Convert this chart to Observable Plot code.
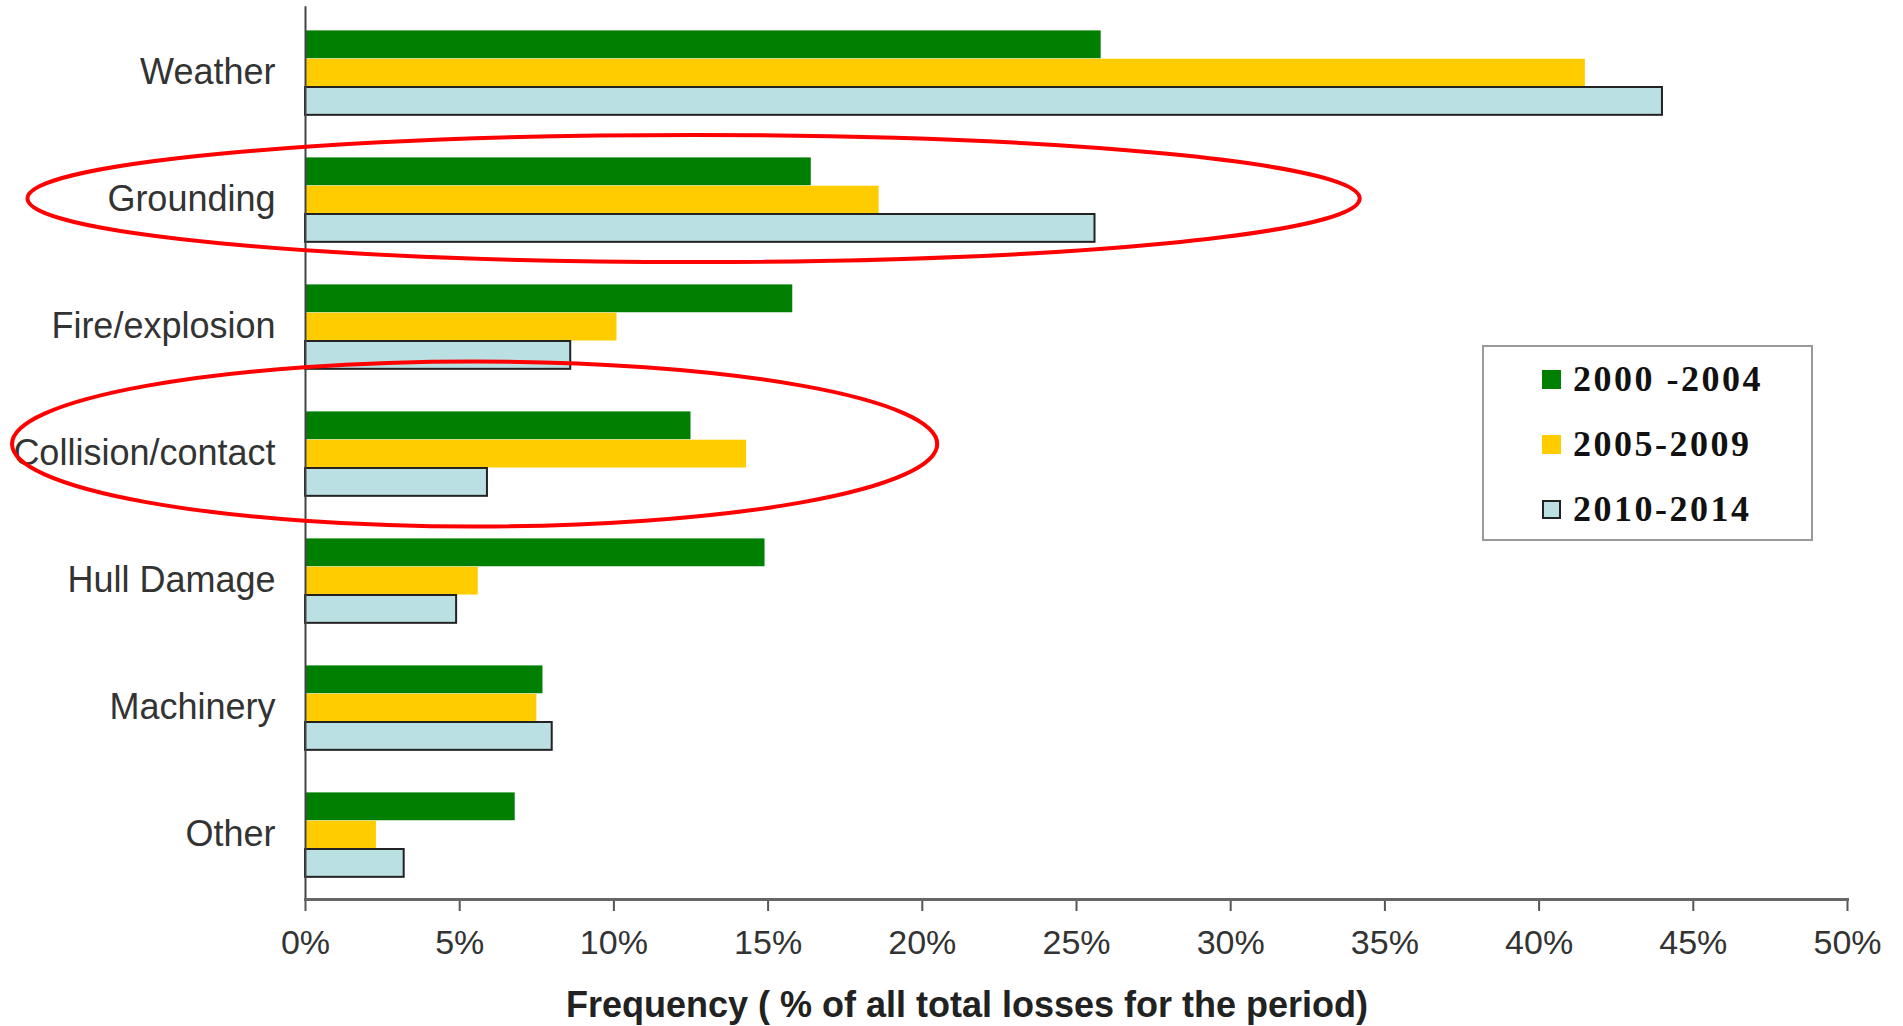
<!DOCTYPE html>
<html>
<head>
<meta charset="utf-8">
<script src="https://cdn.jsdelivr.net/npm/d3@7"></script>
<script src="https://cdn.jsdelivr.net/npm/@observablehq/plot@0.6"></script>
<style>
  html, body { margin: 0; padding: 0; background: #fff; }
  #wrap { position: relative; width: 1903px; height: 1026px; overflow: hidden; }
  #legend {
    position: absolute; left: 1482px; top: 345px; width: 327px; height: 192px;
    border: 2px solid #999; box-sizing: content-box; background: #fff;
    font-family: "Liberation Serif", "Times New Roman", serif; font-weight: bold;
    font-size: 36px; color: #111; letter-spacing: 2.5px;
  }
  .item { position: absolute; left: 58px; height: 40px; display: flex; align-items: center; white-space: pre; }
  .sw { width: 19px; height: 19px; margin-right: 12px; box-sizing: border-box; }
  #caption {
    position: absolute; top: 984px; left: 967px; transform: translateX(-50%);
    font-family: "Liberation Sans", Arial, sans-serif; font-weight: bold; font-size: 36px;
    color: #222; white-space: nowrap; line-height: 42px;
  }
</style>
</head>
<body>
<div id="wrap"></div>
<script>
const categories = ["Weather", "Grounding", "Fire/explosion", "Collision/contact", "Hull Damage", "Machinery", "Other"];
const seriesNames = ["2000 -2004", "2005-2009", "2010-2014"];
const values2000_2004 = [25.8, 16.4, 15.8, 12.5, 14.9, 7.7, 6.8];
const values2005_2009 = [41.5, 18.6, 10.1, 14.3, 5.6, 7.5, 2.3];
const values2010_2014 = [44.0, 25.6, 8.6, 5.9, 4.9, 8.0, 3.2];
const xTicks = [0, 5, 10, 15, 20, 25, 30, 35, 40, 45, 50];
const axisTitle = "Frequency ( % of all total losses for the period)";

// red highlight ellipses (annotation)
const highlightCategories = ["Grounding", "Collision/contact"];
const highlightCenters = [12.6, 5.5];
const highlightHalfWidths = [21.6, 15.0];
const highlightHalfHeights = [0.5, 0.65]; // fraction of band
const highlightOffsets = [0, -0.067];      // fraction of band

const seriesValues = [values2000_2004, values2005_2009, values2010_2014];
const fills = ["#007F00", "#FFCC00", "#BAE0E3"];
const strokes = [null, null, "#222"];

const W = 1903, H = 970;
const mTop = 6.7, mBottom = H - 899;
const step = (899 - mTop) / categories.length;
const groupTop = 22.4, barH = 28.3;

const tables = seriesValues.map(vals => categories.map((c, i) => ({category: c, value: vals[i]})));

const barMarks = tables.map((t, i) => Plot.barX(t, {
  y: "category", x: "value",
  fill: fills[i],
  stroke: strokes[i] || "none",
  strokeWidth: strokes[i] ? 2 : 0,
  insetTop: groupTop + i * barH,
  insetBottom: step - groupTop - (i + 1) * barH
}));

const plot = Plot.plot({
  width: W, height: H,
  marginLeft: 305, marginRight: 56, marginTop: mTop, marginBottom: mBottom,
  style: {fontFamily: "'Liberation Sans', Arial, sans-serif", color: "#333", background: "#fff"},
  x: {domain: [0, 50]},
  y: {domain: categories, padding: 0},
  marks: [
    ...barMarks,
    Plot.axisY({tickSize: 0, tickPadding: 30, fontSize: 36, label: null, fill: "#333"}),
    Plot.axisX({ticks: xTicks, tickSize: 12, tickPadding: 18, tickFormat: d => d + "%", fontSize: 34, label: null, stroke: "#555", strokeWidth: 2, fill: "#333"}),
    Plot.frame({anchor: "left", stroke: "#444", strokeWidth: 2}),
    Plot.frame({anchor: "bottom", stroke: "#666", strokeWidth: 3})
  ]
});

const wrap = document.getElementById("wrap");
wrap.appendChild(plot);

// ellipses via the plot's scales
const xs = plot.scale("x"), ys = plot.scale("y");
const svg = d3.select(plot);
highlightCategories.forEach((c, i) => {
  const cx = xs.apply(highlightCenters[i]);
  const rx = xs.apply(highlightCenters[i] + highlightHalfWidths[i]) - cx;
  const cy = ys.apply(c) + ys.bandwidth * (0.5 + highlightOffsets[i]);
  const ry = ys.bandwidth * highlightHalfHeights[i];
  svg.append("ellipse")
    .attr("cx", cx).attr("cy", cy).attr("rx", rx).attr("ry", ry)
    .attr("fill", "none").attr("stroke", "#FF0000").attr("stroke-width", 4);
});

// legend
const legend = document.createElement("div");
legend.id = "legend";
const rowCenters = [32, 97, 162];
seriesNames.forEach((s, i) => {
  const item = document.createElement("div");
  item.className = "item";
  item.style.top = (rowCenters[i] - 20) + "px";
  const sw = document.createElement("div");
  sw.className = "sw";
  sw.style.background = fills[i];
  if (strokes[i]) sw.style.border = "2px solid " + strokes[i];
  const tx = document.createElement("span");
  tx.textContent = s;
  item.appendChild(sw);
  item.appendChild(tx);
  legend.appendChild(item);
});
wrap.appendChild(legend);

const cap = document.createElement("div");
cap.id = "caption";
cap.textContent = axisTitle;
wrap.appendChild(cap);
</script>
</body>
</html>
